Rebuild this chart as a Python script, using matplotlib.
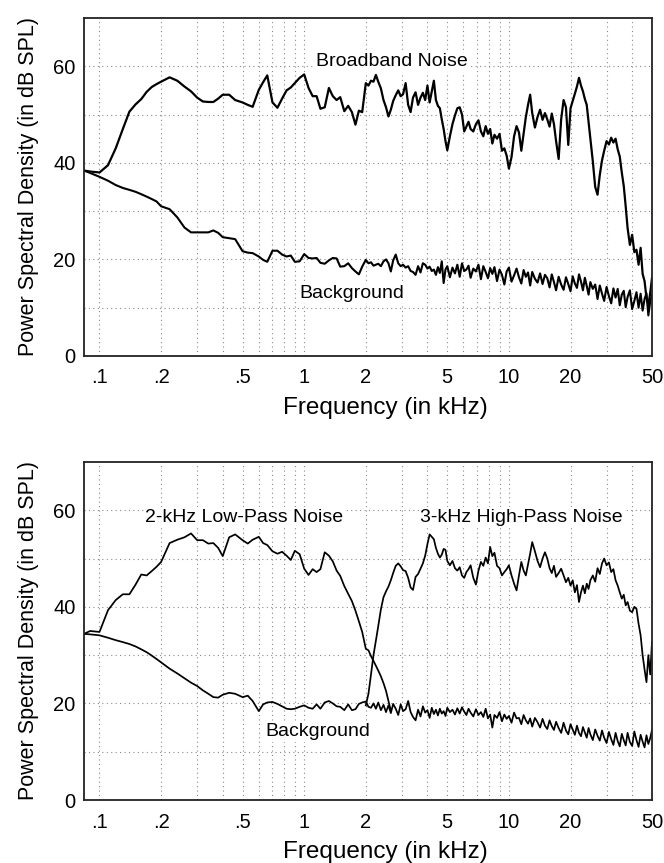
import numpy as np
import matplotlib
matplotlib.use('Agg')
import matplotlib.pyplot as plt
from matplotlib.ticker import FixedLocator, NullFormatter

plt.rcParams['font.family'] = ['Liberation Sans', 'DejaVu Sans']

# frequency grid (kHz), low part and high part
freq_lo = [0.084, 0.09, 0.1, 0.11, 0.12, 0.13, 0.14, 0.15, 0.16, 0.17,
           0.18, 0.19, 0.2, 0.22, 0.24, 0.26, 0.28, 0.3, 0.32, 0.34,
           0.36, 0.38, 0.4, 0.43, 0.46, 0.5, 0.53, 0.56, 0.6, 0.63,
           0.66, 0.7, 0.74, 0.78, 0.82, 0.86, 0.9, 0.95, 1.0, 1.05,
           1.1, 1.15, 1.2, 1.26, 1.32, 1.38, 1.44, 1.5, 1.57, 1.64,
           1.71, 1.78, 1.85, 1.92]
freq_hi = [2.0, 2.06, 2.12, 2.18, 2.24, 2.3, 2.37, 2.44, 2.51, 2.58,
           2.65, 2.72, 2.8, 2.88, 2.96, 3.04, 3.13, 3.22, 3.31, 3.4,
           3.5, 3.6, 3.7, 3.8, 3.9, 4.0, 4.1, 4.2, 4.3, 4.4,
           4.5, 4.6, 4.7, 4.8, 4.9, 5.0, 5.15, 5.3, 5.45, 5.6,
           5.75, 5.9, 6.05, 6.2, 6.35, 6.5, 6.7, 6.9, 7.1, 7.3,
           7.5, 7.7, 7.9, 8.1, 8.3, 8.5, 8.75, 9.0, 9.25, 9.5,
           9.75, 10, 10.3, 10.6, 10.9, 11.2, 11.5, 11.8, 12.1, 12.4,
           12.7, 13, 13.4, 13.8, 14.2, 14.6, 15, 15.4, 15.8, 16.2,
           16.6, 17, 17.5, 18, 18.5, 19, 19.5, 20, 20.5, 21,
           21.5, 22, 22.5, 23, 23.5, 24, 24.5, 25, 25.7, 26.4,
           27.1, 27.8, 28.5, 29.2, 30, 30.8, 31.6, 32.4, 33.2, 34,
           34.8, 35.6, 36.4, 37.2, 38, 39, 40, 41, 42, 43,
           44, 45, 46, 47, 48, 49, 50]

# top panel (dB SPL)
broadband_lo = [38.4, 38.2, 38.0, 39.5, 43.0, 47.0, 50.6, 52.1, 53.2, 54.7,
                55.7, 56.3, 56.8, 57.7, 57.0, 55.8, 54.8, 53.5, 52.7, 52.6,
                52.6, 53.3, 54.1, 54.1, 53.0, 52.5, 52.0, 51.6, 55.1, 56.7,
                58.1, 52.5, 51.4, 53.3, 55.0, 55.6, 56.5, 57.6, 58.3, 55.5,
                53.8, 53.8, 51.2, 51.5, 55.5, 53.8, 53.0, 53.6, 50.7, 51.8,
                50.5, 47.9, 50.8, 50.5]
broadband_hi = [56.5, 56.0, 57.0, 56.8, 58.2, 56.8, 55.4, 53.0, 51.5, 49.6,
                51.0, 52.8, 54.0, 55.0, 53.8, 54.2, 56.5, 52.0, 50.5, 53.5,
                54.6, 52.0, 53.5, 54.5, 53.0, 56.0, 52.5, 54.8, 57.0, 53.0,
                51.8, 51.3, 49.0, 47.0, 44.5, 42.6, 45.5, 48.0, 49.8, 51.3,
                51.5, 50.0, 46.5, 47.5, 48.5, 47.0, 46.5, 48.0, 48.8, 46.5,
                45.5, 47.6, 46.0, 47.0, 44.0, 45.8, 45.0, 46.0, 42.5, 43.0,
                41.5, 38.8, 41.2, 45.5, 47.6, 46.3, 42.5, 46.0, 49.5, 52.0,
                54.1, 50.3, 47.3, 49.5, 51.0, 48.9, 50.3, 49.0, 47.5, 50.2,
                48.0, 44.5, 40.8, 49.0, 53.0, 51.5, 43.7, 51.3, 52.8, 54.3,
                55.8, 57.6, 56.0, 54.8, 53.2, 52.0, 48.5, 45.0, 40.3, 35.0,
                33.4, 37.5, 40.5, 42.5, 44.5, 43.8, 45.2, 44.2, 45.0, 42.8,
                41.3, 38.0, 35.2, 31.0, 26.5, 23.0, 25.1, 21.5, 22.0, 18.9,
                22.4, 17.0, 15.5, 12.0, 10.6, 13.0, 16.1]
background_top_lo = [38.4, 37.9, 37.1, 36.3, 35.4, 34.8, 34.4, 34.0, 33.5, 33.0,
                     32.5, 32.0, 31.0, 30.4, 28.7, 26.6, 25.6, 25.6, 25.6, 25.6,
                     26.0, 25.5, 24.6, 24.4, 24.2, 21.7, 21.4, 21.3, 20.6, 19.9,
                     19.5, 21.8, 21.8, 21.0, 20.6, 20.8, 19.5, 19.6, 21.1, 20.3,
                     20.2, 20.3, 19.3, 19.1, 19.8, 20.3, 20.2, 18.5, 18.6, 19.2,
                     18.2, 17.5, 16.9, 18.5]
background_top_hi = [19.9, 19.2, 19.4, 18.7, 18.9, 19.1, 18.6, 19.6, 20.0, 19.2,
                     17.5, 19.8, 21.0, 19.2, 18.6, 18.9, 18.3, 18.6, 17.6, 17.4,
                     16.8, 18.6, 17.3, 19.2, 18.9, 18.1, 18.5, 17.6, 17.9, 16.8,
                     18.4, 17.2, 19.6, 15.1, 17.9, 18.6, 16.3, 18.3, 17.1, 18.9,
                     16.4, 19.2, 17.6, 17.9, 18.7, 16.2, 18.1, 17.5, 18.9, 15.9,
                     18.6, 17.4, 16.1, 18.2, 17.0, 18.4, 15.5, 17.9, 16.8, 14.8,
                     17.5, 18.3, 15.4, 16.7, 18.1, 16.3, 15.0, 17.8, 16.4, 17.3,
                     14.6, 17.4, 16.0, 15.2, 17.1, 14.9, 16.8, 16.1, 14.2, 16.9,
                     15.3, 13.6, 16.4, 14.8, 13.7, 16.3, 14.9, 13.4, 16.5, 15.0,
                     14.1, 16.9, 15.4, 13.6, 16.2, 14.5, 12.7, 15.3, 13.9, 14.8,
                     11.8, 14.6, 12.9, 11.4, 14.3, 12.4, 10.9, 14.0, 12.1, 13.9,
                     10.5, 12.7, 13.5, 10.1, 12.2, 13.6, 9.7, 11.4, 13.2, 10.0,
                     12.9, 9.4, 11.8, 13.0, 8.4, 11.2, 12.6]

# bottom panel (dB SPL)
lowpass = [34.4, 35.0, 34.8, 39.3, 41.4, 42.6, 42.6, 44.6, 46.7, 46.5,
           47.4, 48.3, 49.3, 53.2, 53.9, 54.4, 55.2, 53.8, 53.8, 53.1,
           53.2, 52.2, 50.5, 54.4, 55.0, 53.8, 53.1, 53.9, 54.5, 53.2,
           52.8, 51.5, 51.0, 51.4, 50.6, 49.7, 51.6, 50.9, 47.9, 46.6,
           47.8, 47.2, 47.8, 51.3, 50.6, 49.4, 47.5, 46.4, 44.3, 42.7,
           41.2, 39.2, 37.0, 34.8,
           31.3, 31.0, 29.8, 28.8, 27.8, 26.8, 25.6, 24.2, 22.6, 20.5, 18.5]
highpass = [19.6, 22.0, 26.0, 30.0, 33.0, 36.0, 39.5, 42.0, 43.2, 44.2,
            45.5, 47.0, 48.5, 49.0, 48.4, 47.6, 47.4, 46.0, 44.0, 43.5,
            46.2, 46.8, 47.9, 49.0, 50.6, 53.0, 55.0, 54.5, 54.0, 52.2,
            51.0, 50.2, 50.8, 52.0, 51.8, 49.5, 48.6, 49.5, 48.0, 47.5,
            48.2, 46.5, 46.0, 47.2, 47.8, 48.6, 46.0, 44.6, 47.5, 49.3,
            48.5, 50.2, 49.0, 52.4, 50.5, 51.2, 48.5, 48.0, 46.5, 47.2,
            47.8, 48.6, 46.5, 44.8, 43.4, 46.5, 49.3, 47.5, 46.5, 48.8,
            51.0, 53.4, 51.5, 49.5, 48.2, 50.0, 51.3, 50.0, 48.0, 47.0,
            48.5, 46.2, 47.0, 47.9, 46.5, 45.1, 46.0, 44.4, 45.5, 43.0,
            44.5, 41.0, 43.0, 44.4, 42.8, 44.8, 43.7, 45.5, 46.5, 45.2,
            48.0, 46.8, 49.0, 50.0, 48.6, 49.2, 47.2, 47.8, 45.5, 44.4,
            43.0, 41.7, 42.5, 40.3, 41.0, 39.2, 38.9, 40.0, 39.6, 36.5,
            34.1, 30.0, 27.0, 24.4, 30.0, 26.0, 32.7]
background_bot_lo = [34.4, 34.3, 34.1, 33.6, 33.1, 32.7, 32.3, 31.8, 31.2, 30.6,
                     29.9, 29.2, 28.5, 27.2, 26.2, 25.2, 24.3, 23.6, 22.7, 22.0,
                     21.3, 21.2, 21.8, 22.2, 22.0, 21.3, 21.6, 20.5, 18.4, 19.8,
                     20.2, 20.3, 19.9, 19.4, 18.9, 18.8, 18.9, 19.3, 19.6, 19.1,
                     18.9, 19.8, 18.9, 20.2, 20.5, 20.0, 19.4, 19.3, 18.6, 19.8,
                     18.6, 18.8, 19.9, 20.2]
background_bot_hi = [20.4, 19.3, 19.1, 20.0, 18.9, 20.2, 18.6, 19.7, 18.2, 19.6,
                     18.0, 19.9, 18.9, 17.6, 19.8, 18.4, 18.8, 20.5, 18.2, 17.2,
                     16.5, 18.7, 17.3, 19.4, 18.1, 18.6, 17.0, 19.1, 17.8, 18.7,
                     17.5, 18.9, 17.9, 18.4, 17.4, 19.1, 18.2, 18.7, 17.7, 19.0,
                     17.9, 19.2, 18.3, 17.6, 18.9, 18.1, 17.3, 18.8, 17.6, 18.2,
                     17.2, 18.9, 16.9, 17.7, 15.0, 17.6, 17.0, 18.2, 16.3, 17.7,
                     16.8, 17.4, 16.0, 18.1, 16.9, 17.0, 15.7, 17.6, 16.5, 15.8,
                     16.9, 15.2, 17.0, 16.1, 15.0, 16.8, 15.4, 14.7, 16.5, 15.3,
                     14.5, 16.2, 14.9, 13.9, 16.0, 14.4, 13.6, 15.7, 14.6, 13.5,
                     15.4, 13.9, 13.2, 15.1, 14.0, 12.9, 14.9, 13.6, 12.4, 14.6,
                     13.3, 12.3, 14.4, 12.9, 11.8, 14.1, 12.6, 11.4, 13.9, 12.2,
                     11.1, 13.7, 12.4, 11.3, 13.9, 12.0, 11.2, 14.2, 12.4, 11.0,
                     13.5, 12.1, 10.9, 13.4, 11.6, 12.8, 14.5]

xtick_vals = [0.1, 0.2, 0.5, 1, 2, 5, 10, 20, 50]
xtick_labels = ['.1', '.2', '.5', '1', '2', '5', '10', '20', '50']

freq = np.array(freq_lo + freq_hi)
freq_hi = np.array(freq_hi)

fig = plt.figure(figsize=(6.64, 8.63), dpi=100)
ax1 = fig.add_axes([0.1265, 0.5875, 0.8554, 0.3917])
ax2 = fig.add_axes([0.1265, 0.0730, 0.8554, 0.3917])

minor_x = [k * 10.0**e for e in (-1, 0, 1) for k in range(1, 10) if k * 10.0**e <= 50]


def style(ax):
    ax.set_xscale('log')
    ax.set_xlim(0.084, 50)
    ax.set_ylim(0, 70)
    ax.xaxis.set_major_locator(FixedLocator(xtick_vals))
    ax.set_xticklabels(xtick_labels)
    ax.xaxis.set_minor_locator(FixedLocator(minor_x))
    ax.xaxis.set_minor_formatter(NullFormatter())
    ax.set_yticks([0, 20, 40, 60])
    ax.set_yticks([10, 30, 50], minor=True)
    ax.set_axisbelow(True)
    ax.grid(True, which='both', color='#8a8a8a', linestyle=(0, (1, 3)), linewidth=0.8)
    ax.tick_params(which='both', length=0, labelsize=14.5)
    ax.tick_params(axis='x', pad=9)
    ax.tick_params(axis='y', pad=6)
    for s in ax.spines.values():
        s.set_linewidth(1.3)
        s.set_color('#222222')
    ax.set_xlabel('Frequency (in kHz)', fontsize=17.5)
    ax.xaxis.set_label_coords(0.53, -0.12)
    ax.set_ylabel('Power Spectral Density (in dB SPL)', fontsize=15.5, labelpad=10)


style(ax1)
style(ax2)

box = dict(facecolor='white', edgecolor='none', pad=1)

ax1.plot(freq, broadband_lo + broadband_hi, color='black', lw=1.6)
ax1.plot(freq, background_top_lo + background_top_hi, color='black', lw=1.5)
ax1.text(2.67, 60, 'Broadband Noise', ha='center', va='baseline', fontsize=14, bbox=box)
ax1.text(1.70, 12, 'Background', ha='center', va='baseline', fontsize=14, bbox=box)

ax2.plot(freq, background_bot_lo + background_bot_hi, color='black', lw=1.25)
ax2.plot(freq[:len(lowpass)], lowpass, color='black', lw=1.25)
ax2.plot(freq_hi, highpass, color='black', lw=1.25)
ax2.text(0.51, 57.6, '2-kHz Low-Pass Noise', ha='center', va='baseline', fontsize=14, bbox=box)
ax2.text(11.5, 57.6, '3-kHz High-Pass Noise', ha='center', va='baseline', fontsize=14, bbox=box)
ax2.text(1.17, 13.2, 'Background', ha='center', va='baseline', fontsize=14, bbox=box)

fig.savefig('out.png', dpi=100)
